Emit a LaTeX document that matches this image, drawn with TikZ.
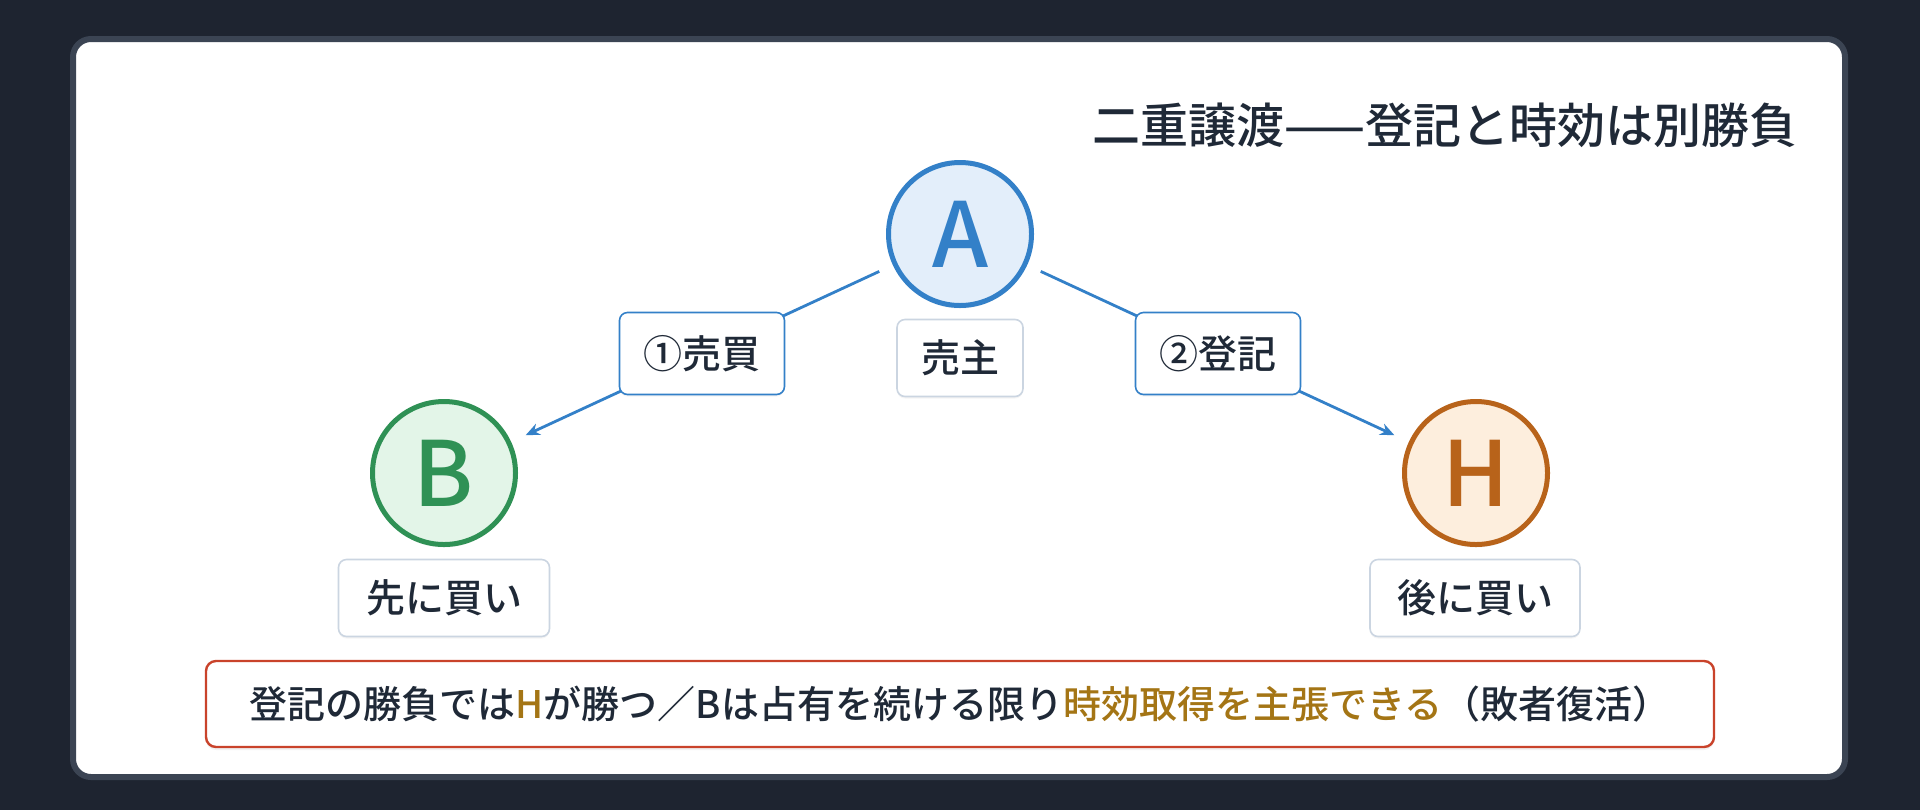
\documentclass[tikz,border=0pt]{standalone}
\usepackage{fontspec}
\setmainfont{Noto Sans CJK JP}[UprightFont=* Medium, BoldFont=* Bold]
\usepackage{tikz}
\usetikzlibrary{arrows.meta}
\usetikzlibrary{shadows}

\definecolor{pagebg}{HTML}{1E2430}
\definecolor{cardline}{HTML}{3B4453}
\definecolor{ink}{HTML}{1F2937}
\definecolor{boxline}{HTML}{CBD5E1}
\definecolor{ablue}{HTML}{3380C8}
\definecolor{afill}{HTML}{E3EEFA}
\definecolor{bgreen}{HTML}{2F9155}
\definecolor{bfill}{HTML}{E3F5E8}
\definecolor{horange}{HTML}{B8631A}
\definecolor{hfill}{HTML}{FDEEDD}
\definecolor{notered}{HTML}{C9432B}
\definecolor{gold}{HTML}{A47515}

\tikzset{
  party/.style={circle, line width=2.5pt, minimum size=71.5pt, inner sep=0pt,
    font=\fontsize{45pt}{45pt}\selectfont,
    drop shadow={opacity=0.10, shadow xshift=0pt, shadow yshift=-1.5pt}},
  rolebox/.style={draw=boxline, line width=0.8pt, fill=white, rounded corners=4pt,
    minimum height=38.5pt, inner sep=0pt, text=ink,
    font=\fontsize{19.5pt}{22pt}\selectfont,
    drop shadow={opacity=0.08, shadow xshift=0pt, shadow yshift=-1pt}},
  steplabel/.style={draw=ablue, line width=0.8pt, fill=white, rounded corners=4pt,
    minimum width=82.5pt, minimum height=41pt, inner sep=0pt, text=ink,
    font=\fontsize{19.5pt}{22pt}\selectfont,
    drop shadow={opacity=0.08, shadow xshift=0pt, shadow yshift=-1pt}},
  transfer/.style={draw=ablue, line width=1.4pt, -{Stealth[length=7pt,width=6pt]},
    shorten <=7.5pt, shorten >=8pt},
}

\begin{document}
\begin{tikzpicture}[x=0.5pt,y=-0.5pt]
  \useasboundingbox[fill=pagebg] (0,0) rectangle (1920,810);
  % card
  \draw[cardline, line width=3pt, fill=white, rounded corners=9pt] (73,39) rectangle (1845,777);
  \node[anchor=east, text=ink, font=\fontsize{24pt}{28pt}\selectfont] (title) at (1805,125) {二重譲渡——登記と時効は別勝負};

  % parties
  \node[party, draw=ablue, fill=afill, text=ablue] (A) at (960,234) {A};
  \node[party, draw=bgreen, fill=bfill, text=bgreen] (B) at (444,473) {B};
  \node[party, draw=horange, fill=hfill, text=horange] (H) at (1476,473) {H};

  \node[rolebox, minimum width=63pt] (seller) at (960,358) {売主};
  \node[rolebox, minimum width=105.5pt] (firstbuyer) at (444,598) {先に買い};
  \node[rolebox, minimum width=105pt] (secondbuyer) at (1475,598) {後に買い};

  % transfers
  \draw[transfer] (A) -- (B) node[steplabel, midway] (sale) {①売買};
  \draw[transfer] (A) -- (H) node[steplabel, midway] (reg) {②登記};

  % note
  \node[draw=notered, line width=1.2pt, fill=white, rounded corners=5pt,
    minimum width=754pt, minimum height=43pt, inner sep=0pt, text=ink,
    font=\fontsize{19pt}{22pt}\selectfont,
    drop shadow={opacity=0.10, shadow xshift=0pt, shadow yshift=-1.5pt}] (note) at (960,704)
    {登記の勝負では\textcolor{gold}{H}が勝つ／Bは占有を続ける限り\textcolor{gold}{時効取得を主張できる}（敗者復活）};
\end{tikzpicture}
\end{document}
